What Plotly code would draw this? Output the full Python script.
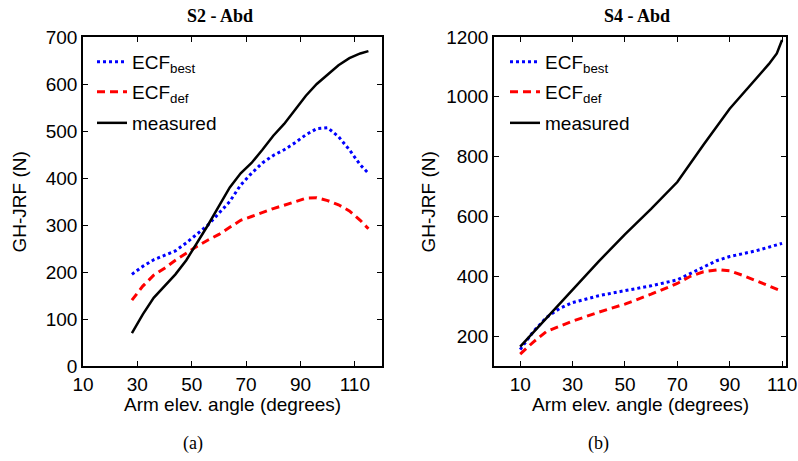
import plotly.graph_objects as go

# ---- Data: S2 - Abd (left panel)
s2_angle = [28, 32, 36, 40, 44, 48, 52, 56, 60, 64, 68, 72, 76, 80, 84, 88, 92, 96, 100, 104, 108, 112, 115]
s2_best = [195, 212, 226, 236, 245, 262, 280, 300, 325, 350, 385, 410, 432, 448, 460, 475, 492, 505, 507, 488, 460, 428, 410]
s2_def = [140, 170, 193, 208, 225, 240, 255, 268, 280, 295, 310, 318, 327, 335, 342, 350, 357, 358, 352, 343, 330, 310, 292]
s2_meas = [70, 110, 145, 170, 195, 225, 262, 300, 340, 380, 410, 432, 460, 490, 515, 545, 575, 600, 620, 640, 655, 665, 670]

# ---- Data: S4 - Abd (right panel)
s4_angle_best = [10, 15, 20, 25, 30, 40, 50, 60, 70, 80, 85, 90, 100, 110]
s4_best = [155, 215, 262, 292, 312, 335, 352, 368, 388, 430, 452, 466, 485, 510]
s4_angle_def = [10, 15, 20, 30, 40, 50, 60, 70, 75, 80, 86, 90, 95, 100, 105, 110]
s4_def = [140, 180, 215, 250, 280, 307, 340, 376, 400, 415, 422, 418, 403, 385, 368, 350]
s4_angle_meas = [10, 20, 30, 40, 50, 60, 70, 80, 90, 100, 105, 108, 110]
s4_meas = [165, 260, 355, 450, 540, 625, 715, 840, 960, 1060, 1110, 1145, 1190]

# ---- Tick labels
s2_xticks = [10, 30, 50, 70, 90, 110]
s2_yticks = [0, 100, 200, 300, 400, 500, 600, 700]
s4_xticks = [10, 30, 50, 70, 90, 110]
s4_yticks = [200, 400, 600, 800, 1000, 1200]

W, H = 798, 461
SANS = "Liberation Sans, Arial, sans-serif"
SERIF = "Liberation Serif, Times New Roman, serif"
FS = 19

BLUE = dict(color="#0000ff", width=3, dash="3px,3px")
RED = dict(color="#ff0000", width=3, dash="8px,5px")
BLACK = dict(color="#000000", width=2.5)

fig = go.Figure()
fig.add_trace(go.Scatter(x=s2_angle, y=s2_best, mode="lines", line=BLUE,
                         name="ECF<sub>best</sub>", xaxis="x", yaxis="y", legend="legend"))
fig.add_trace(go.Scatter(x=s2_angle, y=s2_def, mode="lines", line=RED,
                         name="ECF<sub>def</sub>", xaxis="x", yaxis="y", legend="legend2"))
fig.add_trace(go.Scatter(x=s2_angle, y=s2_meas, mode="lines", line=BLACK,
                         name="measured", xaxis="x", yaxis="y", legend="legend3"))

fig.add_trace(go.Scatter(x=s4_angle_best, y=s4_best, mode="lines", line=BLUE,
                         name="ECF<sub>best</sub>", xaxis="x2", yaxis="y2", legend="legend4"))
fig.add_trace(go.Scatter(x=s4_angle_def, y=s4_def, mode="lines", line=RED,
                         name="ECF<sub>def</sub>", xaxis="x2", yaxis="y2", legend="legend5"))
fig.add_trace(go.Scatter(x=s4_angle_meas, y=s4_meas, mode="lines", line=BLACK,
                         name="measured", xaxis="x2", yaxis="y2", legend="legend6"))

axis_common = dict(showgrid=False, zeroline=False, showline=True, linecolor="black",
                   linewidth=1.5, mirror="ticks", ticks="inside", ticklen=5,
                   tickcolor="black", tickwidth=1, automargin=False,
                   tickfont=dict(family=SANS, size=FS, color="black"))

x1 = (83 / W, 382 / W)
x2 = (494 / W, 786 / W)
ydom = (1 - 366 / H, 1 - 37 / H)


def leg(xpx, ypx):
    return dict(x=xpx / W, y=1 - ypx / H, xanchor="left", yanchor="middle",
                bgcolor="rgba(0,0,0,0)", font=dict(family=SANS, size=FS, color="black"),
                tracegroupgap=0)


fig.update_layout(
    template="none",
    width=W, height=H,
    margin=dict(l=0, r=0, t=0, b=0, pad=0),
    paper_bgcolor="white", plot_bgcolor="white",
    showlegend=True,
    xaxis=dict(domain=x1, range=[10, 120], tickvals=s2_xticks, anchor="y", **axis_common),
    yaxis=dict(domain=ydom, range=[0, 700], tickvals=s2_yticks, anchor="x", **axis_common),
    xaxis2=dict(domain=x2, range=[0, 111.5], tickvals=s4_xticks, anchor="y2", **axis_common),
    yaxis2=dict(domain=ydom, range=[100, 1200], tickvals=s4_yticks, anchor="x2", **axis_common),
    legend=leg(92, 62),
    legend2=leg(92, 92),
    legend3=leg(92, 123),
    legend4=leg(505, 62),
    legend5=leg(505, 92),
    legend6=leg(505, 123),
)

ann = []
ann.append(dict(text="<b>S2 - Abd</b>", x=220 / W, y=1 - 16 / H, font=dict(family=SERIF, size=18, color="black")))
ann.append(dict(text="<b>S4 - Abd</b>", x=637 / W, y=1 - 16 / H, font=dict(family=SERIF, size=18, color="black")))
ann.append(dict(text="GH-JRF (N)", x=6 / W, y=1 - 202 / H, textangle=-90, xanchor="left", font=dict(family=SANS, size=FS, color="black")))
ann.append(dict(text="GH-JRF (N)", x=415 / W, y=1 - 202 / H, textangle=-90, xanchor="left", font=dict(family=SANS, size=FS, color="black")))
ann.append(dict(text="Arm elev. angle (degrees)", x=232 / W, y=1 - 404 / H, font=dict(family=SANS, size=FS, color="black")))
ann.append(dict(text="Arm elev. angle (degrees)", x=640 / W, y=1 - 404 / H, font=dict(family=SANS, size=FS, color="black")))
ann.append(dict(text="(a)", x=193 / W, y=1 - 443 / H, font=dict(family=SERIF, size=18, color="black")))
ann.append(dict(text="(b)", x=598 / W, y=1 - 443 / H, font=dict(family=SERIF, size=18, color="black")))
for a in ann:
    a.setdefault("xanchor", "center")
    a.update(xref="paper", yref="paper", showarrow=False, yanchor="middle")
fig.update_layout(annotations=ann)

fig.write_html("out.html")
